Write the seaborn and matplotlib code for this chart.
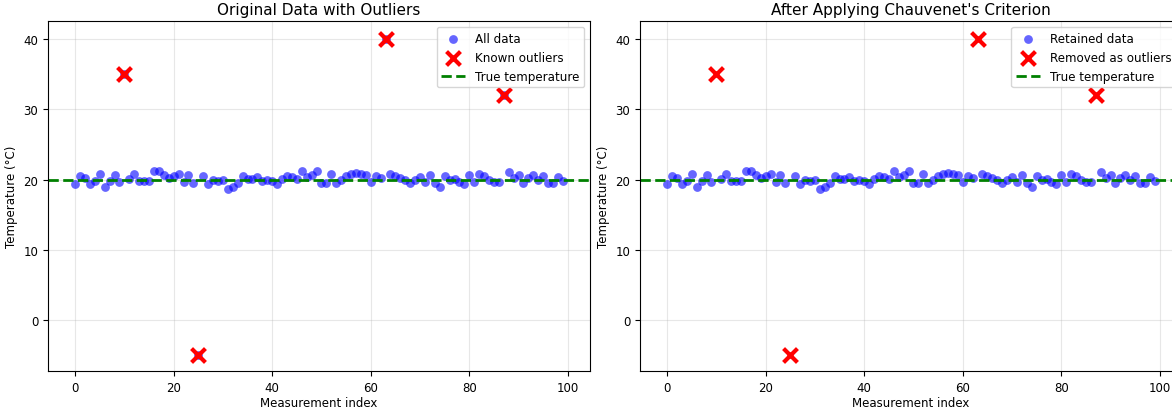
import matplotlib
matplotlib.use('Agg')
import matplotlib.pyplot as plt
import pandas as pd
import numpy as np
import seaborn as sns

temps = [19.4, 20.55, 20.2, 19.3, 19.75, 20.85, 18.9, 19.8, 20.7, 19.6,
         35.0, 20.1, 20.8, 19.75, 19.8, 19.75, 21.15, 21.15, 20.6, 20.25,
         20.55, 20.85, 19.6, 20.7, 19.5, -5.0, 20.55, 19.3, 20.0, 19.8,
         19.95, 18.65, 19.0, 19.45, 20.55, 20.05, 20.1, 20.4, 19.8, 20.0,
         19.8, 19.3, 20.05, 20.5, 20.3, 20.1, 21.25, 20.3, 20.7, 21.2,
         19.5, 19.5, 20.85, 19.55, 19.95, 20.55, 20.8, 20.9, 20.85, 20.7,
         19.7, 20.45, 20.25, 40.0, 20.85, 20.55, 20.15, 19.95, 19.5, 20.0,
         20.3, 19.7, 20.65, 19.5, 19.0, 20.55, 19.95, 20.05, 19.7, 19.3,
         20.7, 19.7, 20.85, 20.55, 20.0, 19.7, 19.7, 32.0, 21.05, 20.25,
         20.65, 19.5, 20.25, 20.65, 19.9, 20.55, 19.5, 19.45, 20.35, 19.8]
outlier_idx = [10, 25, 63, 87]
true_temp = 20.0

df = pd.DataFrame({'index': np.arange(len(temps)), 'temp': temps})
df['outlier'] = df['index'].isin(outlier_idx)
df_out = df[df['outlier']]
df_kept = df[~df['outlier']]

plt.rcParams['font.family'] = ['DejaVu Sans']

fig = plt.figure(figsize=(11.72, 4.10), dpi=100)
ax1 = fig.add_axes([48 / 1172, 38 / 410, 542 / 1172, 350 / 410])
ax2 = fig.add_axes([640 / 1172, 38 / 410, 542 / 1172, 350 / 410])


def draw_panel(ax, points, point_label, out_label, title):
    sns.scatterplot(data=points, x='index', y='temp', ax=ax, color='blue',
                    alpha=0.6, s=40, linewidth=0, label=point_label, zorder=2)
    sns.scatterplot(data=df_out, x='index', y='temp', ax=ax, color='red',
                    marker='x', s=100, linewidth=3, label=out_label, zorder=3)
    ax.axhline(true_temp, color='green', linestyle='--', linewidth=2,
               label='True temperature', zorder=2)
    ax.set_title(title, fontsize=11, pad=5)
    ax.set_xlabel('Measurement index', fontsize=8.5, labelpad=2)
    ax.set_ylabel('Temperature (°C)', fontsize=8.5)
    ax.tick_params(labelsize=8.5)
    ax.grid(True, alpha=0.3)
    ax.set_axisbelow(True)
    ax.set_xticks([0, 20, 40, 60, 80, 100])
    ax.set_yticks([0, 10, 20, 30, 40])
    ax.set_xlim(-5.5, 104.5)
    ax.set_ylim(-7.3, 42.6)
    ax.legend(loc='upper right', fontsize=8.6)


# Left: everything, right: what survives Chauvenet's criterion
draw_panel(ax1, df, 'All data', 'Known outliers', 'Original Data with Outliers')
draw_panel(ax2, df_kept, 'Retained data', 'Removed as outliers',
           "After Applying Chauvenet's Criterion")

fig.savefig('out.png', dpi=100)
